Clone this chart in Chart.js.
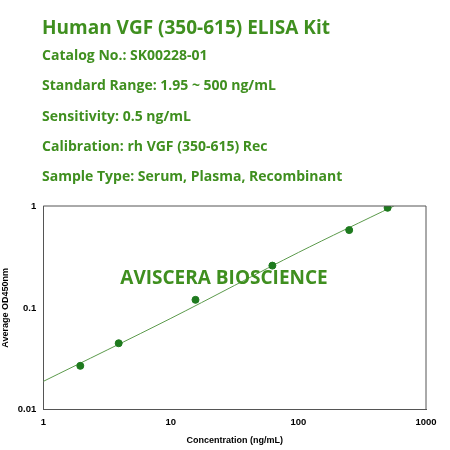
<!DOCTYPE html>
<html><head><meta charset="utf-8">
<script src="https://cdn.jsdelivr.net/npm/chart.js@4"></script>
<style>body{margin:0;background:#fff}</style>
</head><body>
<canvas id="c" width="450" height="450"></canvas>
<script>
const headerLines = ['Catalog No.: SK00228-01', 'Standard Range: 1.95 ~ 500 ng/mL', 'Sensitivity: 0.5 ng/mL',
  'Calibration: rh VGF (350-615) Rec', 'Sample Type: Serum, Plasma, Recombinant'];
const concentrations = [1.95, 3.9, 15.6, 62.5, 250, 500];
const odValues = [0.027, 0.045, 0.12, 0.26, 0.58, 0.96];
const fitX = [1, 10, 100, 560];
const fitY = [0.019, 0.079, 0.35, 1];
const green = '#3f8f1f';

const textPlugin = {
  id: 'texts',
  afterDraw(chart) {
    const ctx = chart.ctx;
    ctx.save();
    ctx.fillStyle = green;
    ctx.textBaseline = 'middle';
    ctx.font = 'bold 19px "Open Sans"';
    ctx.fillText('Human VGF (350-615) ELISA Kit', 42, 29);
    ctx.font = 'bold 14px "Open Sans"';
    headerLines.forEach((t, i) => ctx.fillText(t, 42, 56 + i * 30.3));
    ctx.font = 'bold 19px "Open Sans"';
    ctx.textAlign = 'center';
    ctx.fillText('AVISCERA BIOSCIENCE', 224, 279);
    const a = chart.chartArea;
    ctx.strokeStyle = '#555';
    ctx.lineWidth = 1;
    ctx.beginPath();
    ctx.moveTo(a.left, a.top); ctx.lineTo(a.right, a.top); ctx.lineTo(a.right, a.bottom);
    ctx.stroke();
    ctx.restore();
  }
};

const tickOpts = {color: '#000', font: {family: 'Arial', size: 9.5, weight: 'bold'}};

new Chart(document.getElementById('c'), {
  type: 'scatter',
  data: {
    datasets: [
      {data: concentrations.map((x, i) => ({x, y: odValues[i]})), backgroundColor: '#1e7a1e',
       borderColor: '#1e7a1e', pointRadius: 3.5},
      {type: 'line', data: fitX.map((x, i) => ({x, y: fitY[i]})), borderColor: '#5c9a4c',
       borderWidth: 1, pointRadius: 0, tension: 0.3, fill: false}
    ]
  },
  options: {
    responsive: false, animation: false,
    layout: {padding: {top: 206, right: 24, left: -4, bottom: 0}},
    plugins: {legend: {display: false}, tooltip: {enabled: false}},
    scales: {
      x: {type: 'logarithmic', min: 1, max: 1000,
          grid: {display: false, drawTicks: true, tickLength: 4, color: '#555'},
          border: {color: '#555'},
          ticks: {...tickOpts, callback: v => [1, 10, 100, 1000].includes(v) ? String(v) : '', autoSkip: false, maxRotation: 0},
          title: {display: true, text: 'Concentration (ng/mL)', color: '#000', font: {family: 'Arial', size: 9, weight: 'bold'}}},
      y: {type: 'logarithmic', min: 0.01, max: 1,
          grid: {display: false, drawTicks: true, tickLength: 4, color: '#555'},
          border: {color: '#555'},
          ticks: {...tickOpts, callback: v => [0.01, 0.1, 1].includes(v) ? String(v) : '', autoSkip: false},
          title: {display: true, text: 'Average OD450nm', color: '#000', font: {family: 'Arial', size: 9, weight: 'bold'}}}
    }
  },
  plugins: [textPlugin]
});
</script>
</body></html>
